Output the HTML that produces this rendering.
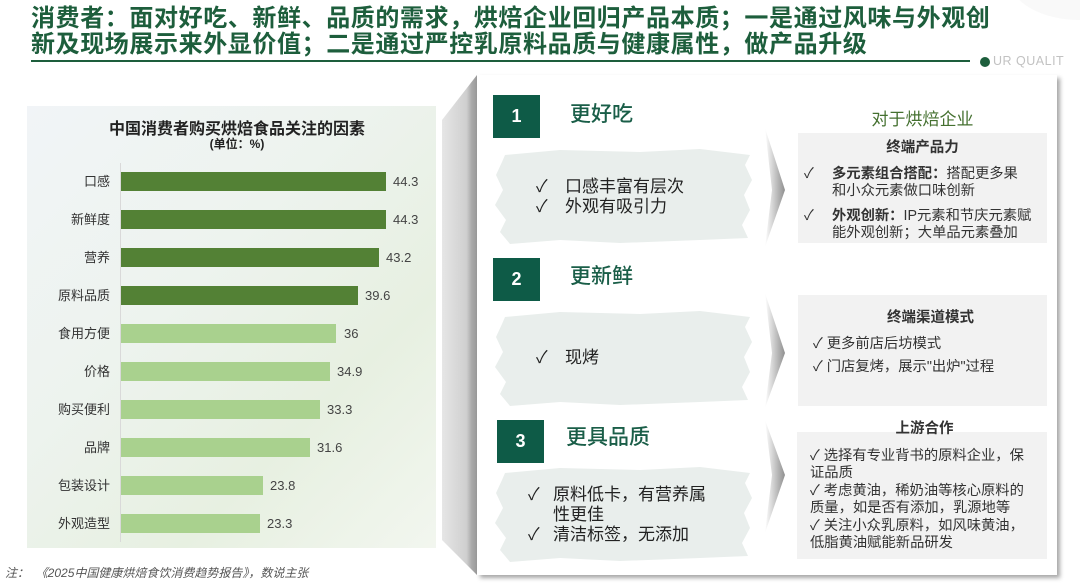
<!DOCTYPE html>
<html><head><meta charset="utf-8">
<style>
*{margin:0;padding:0;box-sizing:border-box}
body{width:1080px;height:583px;background:#fff;position:relative;overflow:hidden;font-family:"Liberation Sans","Noto Sans CJK SC",sans-serif;color:#222}
.a{position:absolute;white-space:nowrap}
.title{left:31px;font-size:24px;letter-spacing:0.6px;color:#1d5e3c;font-weight:bold;line-height:26px}
.cat{position:absolute;right:970px;font-size:13px;color:#333;line-height:19px;text-align:right}
.val{position:absolute;font-size:13px;color:#444;line-height:19px}
.bar{position:absolute;left:121px;height:19px}
.nb{position:absolute;width:47px;height:43px;background:#0e5b47;color:#fff;font-weight:bold;font-size:18px;text-align:center;line-height:43px}
.hd{position:absolute;font-size:21px;color:#1a5e48;font-weight:500;line-height:24px}
.bt{position:absolute;font-size:17px;color:#222;line-height:20px}
.gb{position:absolute;background:#f2f2f2}
.rt{position:absolute;font-size:14.3px;color:#333;line-height:17.5px;white-space:nowrap}
</style></head><body>

<!-- header -->
<div class="a title" style="top:6px">消费者：面对好吃、新鲜、品质的需求，烘焙企业回归产品本质；一是通过风味与外观创</div>
<div class="a title" style="top:32px">新及现场展示来外显价值；二是通过严控乳原料品质与健康属性，做产品升级</div>
<div class="a" style="left:31px;top:60px;width:939px;height:2px;background:#1d5e3c"></div>
<div class="a" style="left:980px;top:57px;width:10px;height:10px;border-radius:50%;background:#1d5e3c"></div>
<div class="a" style="left:993px;top:54px;font-size:12.5px;color:#c2c2c2;letter-spacing:0.5px">UR QUALIT</div>
<div class="a" style="left:1010px;top:-60px;width:140px;height:80px;border-radius:50%;background:#f9f9f9"></div>

<!-- left chart panel -->
<div class="a" style="left:27px;top:106px;width:409px;height:442px;background:linear-gradient(135deg,#f1f4f7 0%,#edf3ee 40%,#e7f0e1 70%,#f2f6ef 100%)"></div>
<div class="a" style="left:0;top:548px;width:440px;height:35px;background:#fff"></div>
<div class="a" style="left:27px;top:115px;width:420px;text-align:center;font-size:16px;font-weight:bold;color:#222">中国消费者购买烘焙食品关注的因素</div>
<div class="a" style="left:27px;top:135px;width:420px;text-align:center;font-size:12px;font-weight:bold;color:#222">(单位：%)</div>
<div class="a" style="left:120px;top:163px;width:1px;height:379px;background:#d9d9d9"></div>

<div class="bar" style="top:172px;width:265px;background:#538135"></div>
<div class="bar" style="top:210px;width:265px;background:#538135"></div>
<div class="bar" style="top:248px;width:258px;background:#538135"></div>
<div class="bar" style="top:286px;width:237px;background:#538135"></div>
<div class="bar" style="top:324px;width:215px;background:#a9d18e"></div>
<div class="bar" style="top:362px;width:209px;background:#a9d18e"></div>
<div class="bar" style="top:400px;width:199px;background:#a9d18e"></div>
<div class="bar" style="top:438px;width:189px;background:#a9d18e"></div>
<div class="bar" style="top:476px;width:142px;background:#a9d18e"></div>
<div class="bar" style="top:514px;width:139px;background:#a9d18e"></div>

<div class="cat" style="top:172px">口感</div>
<div class="cat" style="top:210px">新鲜度</div>
<div class="cat" style="top:248px">营养</div>
<div class="cat" style="top:286px">原料品质</div>
<div class="cat" style="top:324px">食用方便</div>
<div class="cat" style="top:362px">价格</div>
<div class="cat" style="top:400px">购买便利</div>
<div class="cat" style="top:438px">品牌</div>
<div class="cat" style="top:476px">包装设计</div>
<div class="cat" style="top:514px">外观造型</div>

<div class="val" style="left:393px;top:172px">44.3</div>
<div class="val" style="left:393px;top:210px">44.3</div>
<div class="val" style="left:386px;top:248px">43.2</div>
<div class="val" style="left:365px;top:286px">39.6</div>
<div class="val" style="left:344px;top:324px">36</div>
<div class="val" style="left:337px;top:362px">34.9</div>
<div class="val" style="left:327px;top:400px">33.3</div>
<div class="val" style="left:317px;top:438px">31.6</div>
<div class="val" style="left:270px;top:476px">23.8</div>
<div class="val" style="left:267px;top:514px">23.3</div>

<div class="a" style="left:5px;top:564px;font-size:12px;font-style:italic;color:#555">注：&nbsp;&nbsp;《2025中国健康烘焙食饮消费趋势报告》，数说主张</div>

<!-- right panel shapes -->
<svg class="a" style="left:0;top:0" width="1080" height="583" viewBox="0 0 1080 583">
<defs>
<linearGradient id="bev" x1="0" x2="1" y1="0" y2="0">
<stop offset="0" stop-color="#e6e6e6"/><stop offset="0.7" stop-color="#cfcfcf"/><stop offset="0.85" stop-color="#a9a9a9"/><stop offset="1" stop-color="#9a9a9a"/>
</linearGradient>
<linearGradient id="arr" x1="0" x2="1" y1="0" y2="0">
<stop offset="0" stop-color="#ffffff"/><stop offset="1" stop-color="#8f8f8f"/>
</linearGradient>
<filter id="sh" x="-5%" y="-5%" width="110%" height="110%"><feDropShadow dx="3" dy="3" stdDeviation="2" flood-color="#000" flood-opacity="0.35"/></filter>
</defs>
<polygon points="442,120 477,75 477,575 442,540" fill="url(#bev)"/>
<rect x="477" y="75" width="580" height="500" fill="#fff" filter="url(#sh)"/>
<g fill="#e9eeec">
<polygon id="br" points="505,155 560,150 640,152 700,149 750,155 745,165 752,180 744,195 750,210 742,225 748,238 700,240 620,243 560,240 510,244 500,232 506,220 495,205 503,190 496,175 502,162"/>
<use href="#br" transform="translate(0,162)"/>
<use href="#br" transform="translate(0,318)"/>
</g>
<polygon points="765,128 785,190 765,247 772,190" fill="url(#arr)"/>
<polygon points="765,293 785,353 765,408 772,353" fill="url(#arr)"/>
<polygon points="765,420 785,475 765,533 772,475" fill="url(#arr)"/>
</svg>

<div class="nb" style="left:493px;top:95px">1</div>
<div class="nb" style="left:493px;top:258px">2</div>
<div class="nb" style="left:497px;top:420px">3</div>

<div class="hd" style="left:570px;top:103px">更好吃</div>
<div class="hd" style="left:570px;top:265px">更新鲜</div>
<div class="hd" style="left:566px;top:426px">更具品质</div>

<div class="bt" style="left:536px;top:177px">✓</div><div class="bt" style="left:565px;top:177px">口感丰富有层次</div>
<div class="bt" style="left:536px;top:197px">✓</div><div class="bt" style="left:565px;top:197px">外观有吸引力</div>
<div class="bt" style="left:536px;top:348px">✓</div><div class="bt" style="left:565px;top:348px">现烤</div>
<div class="bt" style="left:528px;top:485px">✓</div><div class="bt" style="left:553px;top:485px">原料低卡，有营养属</div>
<div class="bt" style="left:553px;top:505px">性更佳</div>
<div class="bt" style="left:528px;top:525px">✓</div><div class="bt" style="left:553px;top:525px">清洁标签，无添加</div>

<!-- right grey boxes -->
<div class="a" style="left:798px;top:105px;width:249px;text-align:center;font-size:17px;color:#44702f">对于烘焙企业</div>
<div class="gb" style="left:798px;top:133px;width:249px;height:110px"></div>
<div class="rt" style="left:798px;top:140px;width:249px;text-align:center;font-weight:bold;font-size:14.5px">终端产品力</div>
<div class="rt" style="left:804px;top:166px">✓</div>
<div class="rt" style="left:832px;top:166px"><b>多元素组合搭配：</b>搭配更多果</div>
<div class="rt" style="left:832px;top:183px">和小众元素做口味创新</div>
<div class="rt" style="left:804px;top:208px">✓</div>
<div class="rt" style="left:832px;top:208px"><b>外观创新：</b>IP元素和节庆元素赋</div>
<div class="rt" style="left:832px;top:225px">能外观创新；大单品元素叠加</div>

<div class="gb" style="left:798px;top:295px;width:249px;height:111px"></div>
<div class="rt" style="left:806px;top:310px;width:249px;text-align:center;font-weight:bold;font-size:14.5px">终端渠道模式</div>
<div class="rt" style="left:813px;top:336px">✓ 更多前店后坊模式</div>
<div class="rt" style="left:813px;top:359px">✓ 门店复烤，展示"出炉"过程</div>

<div class="gb" style="left:797px;top:432px;width:250px;height:127px"></div>
<div class="rt" style="left:800px;top:421px;width:249px;text-align:center;font-weight:bold;font-size:14.5px">上游合作</div>
<div class="rt" style="left:810px;top:448px">✓ 选择有专业背书的原料企业，保</div>
<div class="rt" style="left:810px;top:465px">证品质</div>
<div class="rt" style="left:810px;top:483px">✓ 考虑黄油，稀奶油等核心原料的</div>
<div class="rt" style="left:810px;top:500px">质量，如是否有添加，乳源地等</div>
<div class="rt" style="left:810px;top:518px">✓ 关注小众乳原料，如风味黄油，</div>
<div class="rt" style="left:810px;top:535px">低脂黄油赋能新品研发</div>

</body></html>
